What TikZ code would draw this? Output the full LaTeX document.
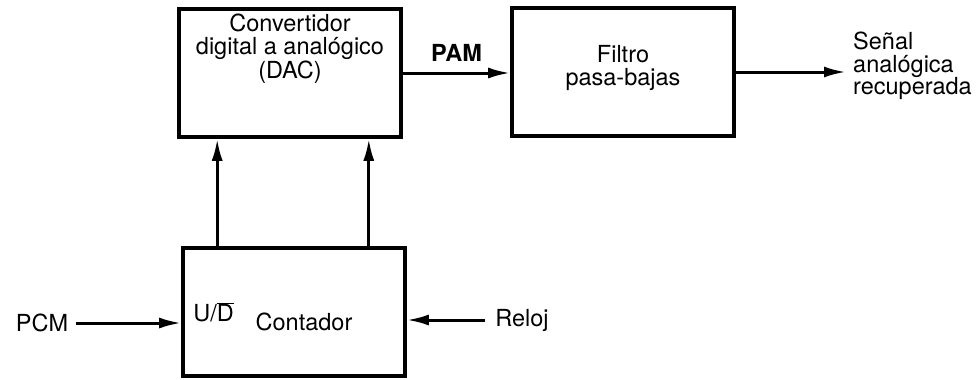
\documentclass[tikz,border=0pt]{standalone}
\usepackage{fontspec}
\setmainfont{TeX Gyre Heros}
\usetikzlibrary{arrows.meta}
\usetikzlibrary{positioning}
\usetikzlibrary{calc}

\tikzset{
  caja/.style = {draw, line width = 3.6pt, minimum width = 222pt, minimum height = 128pt, inner sep = 0pt},
  flecha/.style = {-{Latex[length = 22pt, width = 11pt]}, line width = 3pt},
  texto/.style = {align = center, inner sep = 0pt, font = \fontsize{23.5}{22.5}\selectfont}
}

\begin{document}
\begin{tikzpicture}[x = 1pt, y = -1pt]
    {
    \useasboundingbox (0,0) rectangle (978,380);

    \node[caja](dac) at (290,73) {};
    \node[caja](filtro) at (623,72) {};
    \node[caja](contador) at (294,312) {};

    \node[texto, below = 7pt of dac.north] (dactxt) {Convertidor\\digital a analógico\\(DAC)};
    \node[texto] (filtrotxt) at (623,68) {Filtro\\pasa-bajas};
    \node[texto, anchor = west] (ud) at ([xshift = 12pt]contador.west) {U/$\overline{\mbox{D}}$};
    \node[texto] (contadortxt) at (304,322) {Contador};

    \node[texto] (pcm) at (42,323) {PCM};
    \node[texto] (reloj) at (522,320) {Reloj};
    \node[texto, align = left, anchor = west] (salida) at (853,66) {Señal\\analógica\\recuperada};
    \coordinate (fin) at (846,72);

    \draw [flecha] (pcm.east) ++(8,0) coordinate (pcmout) -- (pcmout -| contador.west);
    \draw [flecha] (reloj.west) ++(-10,0) coordinate (relojout) -- (relojout -| contador.east);
    \draw [flecha] (dac.east) -- node[texto, above = 10pt, font = \fontsize{23.5}{22.5}\selectfont\bfseries]{PAM} (dac.east -| filtro.west);
    \draw [flecha] (filtro.east) -- (fin);

    \draw [flecha] ([xshift = 36pt]contador.north west) -- ([xshift = 36pt]contador.north west |- dac.south);
    \draw [flecha] ([xshift = -38pt]contador.north east) -- ([xshift = -38pt]contador.north east |- dac.south);
  }
    \end{tikzpicture}
\end{document}
